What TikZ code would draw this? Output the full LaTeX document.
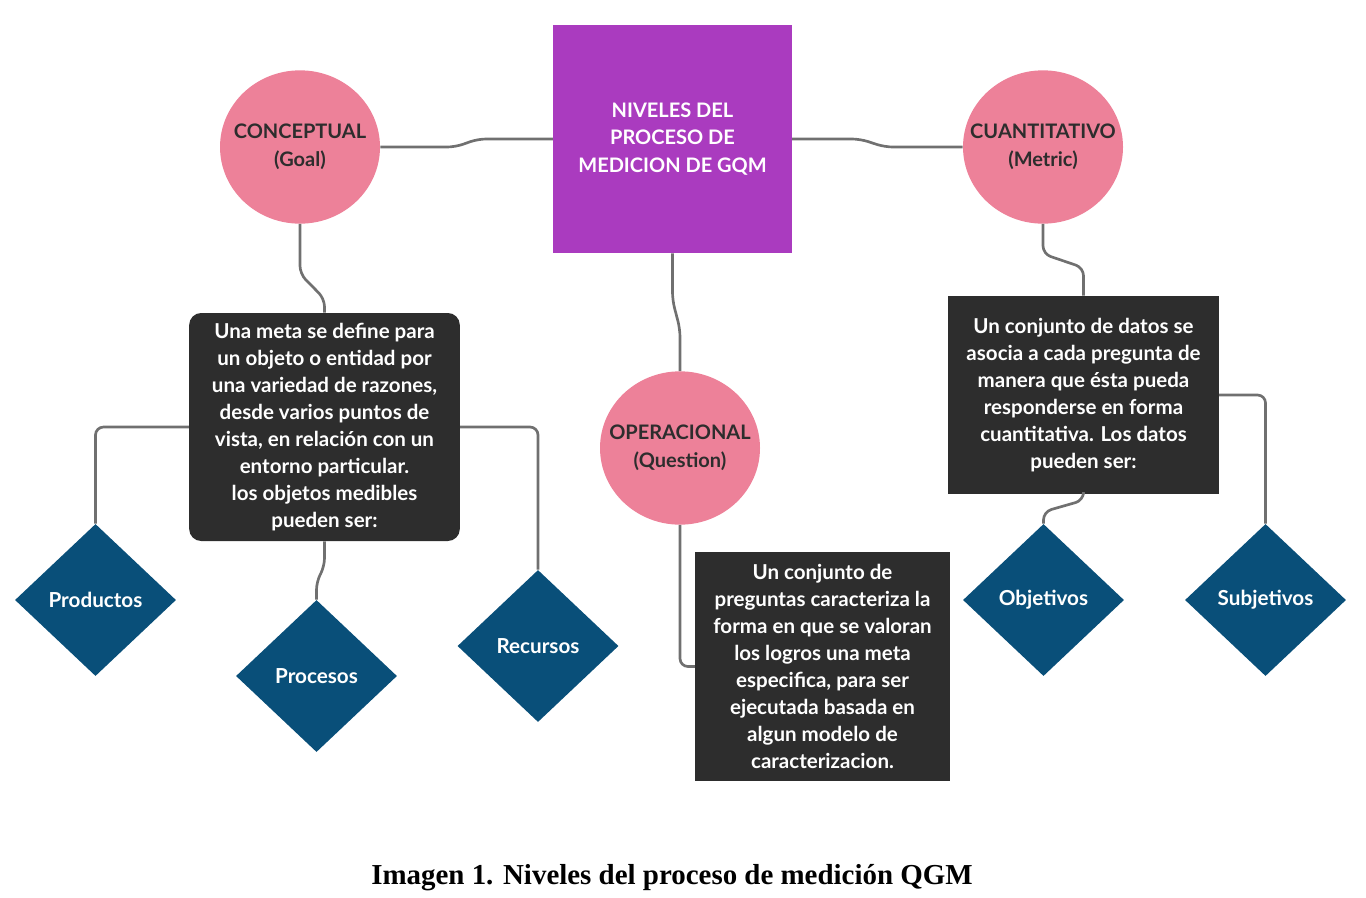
\documentclass[tikz,border=0pt]{standalone}
\usepackage{fontspec}
\setmainfont{Lato}
\newfontfamily\capfont{Liberation Serif}
\usetikzlibrary{shapes.geometric, calc}
\definecolor{GqmPurple}{RGB}{170, 59, 191}
\definecolor{GqmPink}{RGB}{237, 129, 153}
\definecolor{GqmDark}{RGB}{45, 45, 45}
\definecolor{GqmBlue}{RGB}{9, 79, 121}
\definecolor{GqmLine}{RGB}{112, 112, 112}

\begin{document}
\begin{tikzpicture}[x=0.75pt, y=-0.75pt,
    level/.style={ellipse, fill=GqmPink, minimum width=120pt, minimum height=115pt, inner sep=0pt},
    leveltext/.style={align=center, text=GqmDark, font=\fontsize{15}{21}\selectfont\bfseries},
    infobox/.style={fill=GqmDark, text=white, inner sep=0pt, align=center, font=\fontsize{15.4}{20.3}\selectfont\bfseries},
    kind/.style={diamond, fill=GqmBlue, text=white, minimum width=120.75pt, minimum height=114pt, inner sep=0pt, font=\fontsize{15.5}{18}\selectfont\bfseries},
    link/.style={draw=GqmLine, line width=2pt, rounded corners=6pt}]
    \useasboundingbox (0,0) rectangle (1366,897);
    \node[fill=GqmPurple, text=white, minimum width=179pt, minimum height=171pt, align=center, font=\fontsize{15}{20.6}\selectfont\bfseries] (main) at (672.5,139) {NIVELES DEL\\PROCESO DE\\MEDICION DE GQM};
    \node[level] (goal) at (300,147) {};
    \node[leveltext] (goal-txt) at (goal) {CONCEPTUAL\\(Goal)};
    \node[level] (question) at (680,448) {};
    \node[leveltext] (question-txt) at (question) {OPERACIONAL\\(Question)};
    \node[level] (metric) at (1043,147) {};
    \node[leveltext] (metric-txt) at (metric) {CUANTITATIVO\\(Metric)};
    \node[infobox, rounded corners=9pt, minimum width=203pt, minimum height=171pt] (goalbox) at (324.5,427) {Una meta se define para\\un objeto o entidad por\\una variedad de razones,\\desde varios puntos de\\vista, en relación con un\\entorno particular.\\los objetos medibles\\pueden ser:};
    \node[infobox, minimum width=191pt, minimum height=172pt] (qbox) at (822.5,666.5) {Un conjunto de\\preguntas caracteriza la\\forma en que se valoran\\los logros una meta\\especifica, para ser\\ejecutada basada en\\algun modelo de\\caracterizacion.};
    \node[infobox, minimum width=203pt, minimum height=148.5pt] (mbox) at (1083.5,395) {Un conjunto de datos se\\asocia a cada pregunta de\\manera que ésta pueda\\responderse en forma\\cuantitativa. Los datos\\pueden ser:};
    \node[kind] (prod) at (95.5,600) {Productos};
    \node[kind] (proc) at (316.5,676) {Procesos};
    \node[kind] (recu) at (538,646) {Recursos};
    \node[kind] (obj) at (1043.5,600) {Objetivos};
    \node[kind] (subj) at (1265.5,600) {Subjetivos};
    \draw[link] (goal.east) -- ++(75,0) -- ($(main.west)+(-75,0)$) -- (main.west);
    \draw[link] (main.east) -- ++(68,0) -- ($(metric.west)+(-78,0)$) -- (metric.west);
    \draw[link] (main.south) -- ++(0,47) -- ($(question.north)+(0,-42)$) -- (question.north);
    \draw[link] (goal.south) -- ++(0,50) -- ($(goalbox.north)+(0,-14)$) -- (goalbox.north);
    \draw[link] (goalbox.west) -| (prod.north);
    \draw[link] (goalbox.east) -| (recu.north);
    \draw[link] (goalbox.south) -- ++(0,25) -- ($(proc.north)+(0,-18)$) -- (proc.north);
    \draw[link] (question.south) |- (qbox.west);
    \draw[link] (metric.south) -- ++(0,30) -- ($(mbox.north)+(0,-28)$) -- (mbox.north);
    \draw[link] (mbox.south) -- ++(0,6) -- ($(obj.north)+(0,-12)$) -- (obj.north);
    \draw[link] (mbox.east) -| (subj.north);
    \node[font=\capfont\bfseries\fontsize{21.7}{24}\selectfont, anchor=base] (caption) at (672,884) {Imagen 1. Niveles del proceso de medición QGM};
\end{tikzpicture}
\end{document}
